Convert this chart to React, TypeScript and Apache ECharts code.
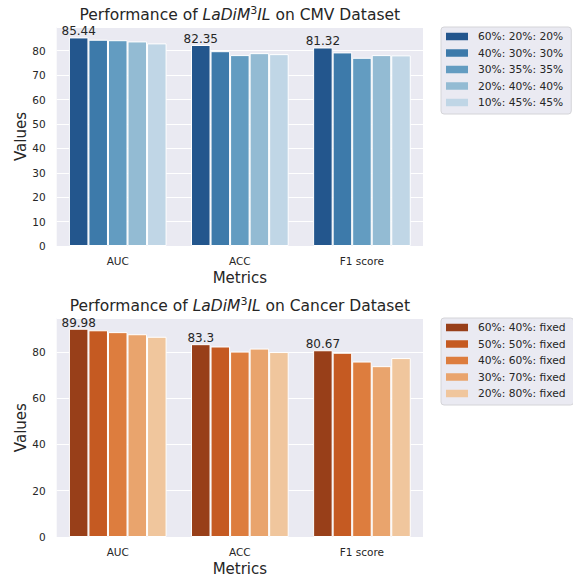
import React, { useEffect, useRef } from 'react';
import * as echarts from 'echarts';

const categories = ['AUC', 'ACC', 'F1 score'];

const cmvNames = ['60%: 20%: 20%', '40%: 30%: 30%', '30%: 35%: 35%', '20%: 40%: 40%', '10%: 45%: 45%'];
const cmv1 = [85.44, 82.35, 81.32];
const cmv2 = [84.5, 79.8, 79.3];
const cmv3 = [84.3, 78.2, 77.1];
const cmv4 = [83.8, 79.0, 78.2];
const cmv5 = [83.0, 78.6, 78.1];
const cmvValues = [cmv1, cmv2, cmv3, cmv4, cmv5];

const cancerNames = ['60%: 40%: fixed', '50%: 50%: fixed', '40%: 60%: fixed', '30%: 70%: fixed', '20%: 80%: fixed'];
const can1 = [89.98, 83.3, 80.67];
const can2 = [89.3, 82.3, 79.6];
const can3 = [88.5, 80.1, 75.8];
const can4 = [87.6, 81.4, 73.8];
const can5 = [86.5, 79.9, 77.3];
const cancerValues = [can1, can2, can3, can4, can5];

const cmvAxis = { max: 89.712, interval: 10 };
const cancerAxis = { max: 94.479, interval: 20 };

const blues = ['#23568d', '#3d7aaa', '#639cc1', '#93bbd3', '#c0d6e6'];
const oranges = ['#983f19', '#c55a22', '#dd7d3e', '#e9a46d', '#f0c69d'];

const FONT = 'DejaVu Sans';
const TXT = '#262626';

export default function App() {
  const ref = useRef<HTMLDivElement>(null);
  useEffect(() => {
    if (!ref.current) return;
    const chart = echarts.init(ref.current, undefined, { renderer: 'svg' });

    const titleRich = {
      n: { fontSize: 15.5, fontFamily: FONT, color: TXT, lineHeight: 20, fontWeight: 'normal' },
      i: { fontSize: 15.5, fontFamily: FONT, color: TXT, lineHeight: 20, fontStyle: 'italic', fontWeight: 'normal' },
      s: { fontSize: 11, fontFamily: FONT, color: TXT, lineHeight: 11, verticalAlign: 'top', fontWeight: 'normal' },
    };

    const makeTitle = (ds: string, top: number) => ({
      text: `{n|Performance of }{i|LaDiM}{s|3}{i|IL}{n| on ${ds} Dataset}`,
      left: 239.8,
      top,
      textAlign: 'center',
      padding: 0,
      textStyle: { fontWeight: 'normal', fontFamily: FONT, color: TXT, rich: titleRich },
    });

    const makeLegend = (names: string[], top: number) => ({
      data: names,
      orient: 'vertical',
      left: 441,
      top,
      icon: 'rect',
      itemWidth: 22,
      itemHeight: 7.5,
      itemGap: 4.5,
      padding: [3.5, 8, 5.5, 5],
      backgroundColor: '#eaeaf2',
      borderColor: '#d4d4d8',
      borderWidth: 1,
      borderRadius: 3,
      itemStyle: { borderWidth: 0 },
      textStyle: { fontSize: 10.7, lineHeight: 12, color: TXT, fontFamily: FONT, padding: [0, 0, 0, 5] },
    });

    const makeX = (gi: number) => ({
      type: 'category',
      gridIndex: gi,
      data: categories,
      axisLine: { show: false },
      axisTick: { show: false },
      splitLine: { show: false },
      axisLabel: { fontSize: 10.5, color: TXT, fontFamily: FONT, margin: 9 },
      name: 'Metrics',
      nameLocation: 'middle',
      nameGap: 24,
      nameTextStyle: { fontSize: 15, color: TXT, fontFamily: FONT },
    });

    const makeY = (gi: number, ax: { max: number; interval: number }) => ({
      type: 'value',
      gridIndex: gi,
      min: 0,
      max: ax.max,
      interval: ax.interval,
      axisLine: { show: false },
      axisTick: { show: false },
      splitLine: { show: true, lineStyle: { color: '#ffffff', width: 1 } },
      axisLabel: {
        fontSize: 10.5,
        color: TXT,
        fontFamily: FONT,
        margin: 11,
        formatter: (v: number) => (Math.abs(v % ax.interval) < 1e-9 ? String(v) : ''),
      },
      name: 'Values',
      nameLocation: 'middle',
      nameGap: 28,
      nameMoveOverlap: false,
      nameTextStyle: { fontSize: 15, color: TXT, fontFamily: FONT },
    });

    const makeSeries = (names: string[], values: number[][], colors: string[], gi: number) =>
      names.map((name, i) => ({
        name,
        type: 'bar',
        xAxisIndex: gi,
        yAxisIndex: gi,
        data: values[i],
        barGap: '0%',
        barCategoryGap: '20%',
        itemStyle: { color: colors[i], borderColor: '#ffffff', borderWidth: 1 },
        label:
          i === 0
            ? { show: true, position: 'top', distance: 0, fontSize: 12, color: TXT, fontFamily: FONT }
            : { show: false },
      }));

    chart.setOption({
      animation: false,
      backgroundColor: '#ffffff',
      textStyle: { fontFamily: FONT },
      title: [makeTitle('CMV', 5), makeTitle('Cancer', 296)],
      legend: [makeLegend(cmvNames, 27), makeLegend(cancerNames, 318)],
      grid: [
        { left: 56.7, top: 27, width: 366.3, height: 219, show: true, backgroundColor: '#eaeaf2', borderWidth: 0 },
        { left: 56.7, top: 318.3, width: 366.3, height: 218.7, show: true, backgroundColor: '#eaeaf2', borderWidth: 0 },
      ],
      xAxis: [makeX(0), makeX(1)],
      yAxis: [makeY(0, cmvAxis), makeY(1, cancerAxis)],
      series: [
        ...makeSeries(cmvNames, cmvValues, blues, 0),
        ...makeSeries(cancerNames, cancerValues, oranges, 1),
      ],
    });
    return () => chart.dispose();
  }, []);
  return (
    <div
      ref={ref}
      style={{ position: 'fixed', left: 0, top: 0, width: 573, height: 581 }}
    />
  );
}
